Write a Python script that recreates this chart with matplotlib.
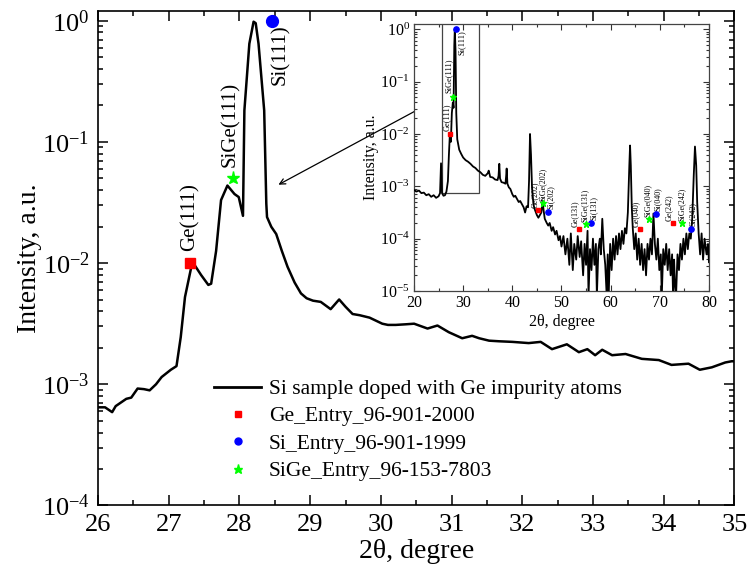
import numpy as np
import matplotlib
matplotlib.use('Agg')
import matplotlib.pyplot as plt
from matplotlib.lines import Line2D
from matplotlib.patches import Rectangle
from matplotlib.ticker import LogLocator, MultipleLocator, NullFormatter

plt.rcParams['font.family'] = ['Liberation Serif', 'DejaVu Serif']
plt.rcParams['mathtext.fontset'] = 'custom'
plt.rcParams['mathtext.rm'] = 'Liberation Serif'
plt.rcParams['mathtext.it'] = 'Liberation Serif:italic'
plt.rcParams['mathtext.default'] = 'regular'

# main pattern (zoomed 26-35 deg), log10 of intensity
main_x = [26.0, 26.1, 26.2, 26.25, 26.4, 26.47, 26.56, 26.65, 26.73, 26.82, 26.9, 27.03,
          27.11, 27.17, 27.23, 27.32, 27.37, 27.46, 27.56, 27.6, 27.67, 27.74, 27.83, 27.93,
          27.99, 28.05, 28.07, 28.14, 28.2, 28.23, 28.27, 28.35, 28.38, 28.39, 28.45, 28.52,
          28.6, 28.68, 28.78, 28.87, 28.95, 29.04, 29.15, 29.29, 29.41, 29.5, 29.6, 29.7,
          29.84, 30.02, 30.1, 30.21, 30.35, 30.47, 30.66, 30.8, 30.96, 31.15, 31.29, 31.39,
          31.53, 31.67, 31.86, 32.09, 32.26, 32.42, 32.63, 32.8, 32.92, 33.03, 33.13, 33.27,
          33.46, 33.69, 33.93, 34.11, 34.35, 34.51, 34.68, 34.87, 34.96, 35.0]
main_logI = [-3.19, -3.19, -3.23, -3.18, -3.12, -3.11, -3.035, -3.04, -3.05, -3.0, -2.94, -2.88,
             -2.85, -2.61, -2.28, -2.03, -2.02, -2.10, -2.18, -2.17, -1.90, -1.48, -1.36, -1.43,
             -1.455, -1.61, -0.74, -0.19, -0.008, -0.02, -0.19, -0.74, -1.51, -1.62, -1.70, -1.76,
             -1.90, -2.03, -2.16, -2.25, -2.29, -2.31, -2.32, -2.38, -2.30, -2.36, -2.42, -2.43,
             -2.45, -2.50, -2.51, -2.51, -2.505, -2.50, -2.54, -2.515, -2.57, -2.62, -2.60, -2.62,
             -2.64, -2.645, -2.65, -2.66, -2.65, -2.71, -2.67, -2.735, -2.71, -2.76, -2.715, -2.76,
             -2.75, -2.79, -2.80, -2.84, -2.83, -2.88, -2.86, -2.82, -2.81, -2.81]

# full pattern 20-80 deg for the inset
inset_x = [20.0, 20.5, 21.0, 21.5, 22.0, 22.5, 23.0, 23.5, 24.0, 24.5, 25.0, 25.3, 25.5, 25.7,
           26.0, 26.3, 26.6, 26.9, 27.1, 27.3, 27.5, 27.7, 27.9, 28.05, 28.2, 28.3, 28.45, 28.6,
           28.8, 29.2, 29.6, 30.0, 30.5, 31.0, 31.5, 32.0, 32.5, 33.0, 33.5, 34.0, 34.5, 35.0,
           35.2, 35.5, 36.0, 36.5, 37.0, 37.2, 37.35, 37.5, 37.8, 38.2, 38.6, 38.75, 38.85, 39.0,
           39.3, 39.6, 40.0, 40.3, 40.6, 41.0, 41.3, 41.6, 42.0, 42.3, 42.6, 42.9, 43.2, 43.4,
           43.6, 43.8, 44.0, 44.3, 44.6, 45.0, 45.3, 45.6, 45.9, 46.15, 46.35, 46.6, 47.0, 47.3,
           47.6, 48.0, 48.3, 48.7, 49.0, 49.4, 49.7,
           50.0, 50.4, 50.8, 51.2, 51.6, 51.9, 52.3, 52.6, 53.0, 53.3, 53.7, 54.0, 54.4, 54.7,
           55.0, 55.3, 55.5, 55.8, 56.1, 56.4, 56.7, 57.0, 57.2, 57.5, 57.8, 58.0, 58.3, 58.6,
           58.9, 59.2, 59.4, 59.6, 59.9, 60.2, 60.5, 60.8, 61.1, 61.4, 61.7, 62.0, 62.3, 62.6,
           62.9, 63.2, 63.5, 63.8, 63.95, 64.1, 64.3, 64.5, 64.8, 65.1, 65.4, 65.7, 66.0, 66.3,
           66.6, 66.9, 67.2, 67.5, 67.8, 68.1, 68.4, 68.7, 69.0, 69.3, 69.6, 69.9, 70.2, 70.4,
           70.7, 71.0, 71.3, 71.6, 71.9, 72.2, 72.5, 72.7, 72.9, 73.1, 73.3, 73.6, 73.9, 74.2,
           74.5, 74.8, 75.1, 75.4, 75.7, 76.0, 76.3, 76.6, 76.9, 77.15, 77.4, 77.6, 77.9, 78.2,
           78.5, 78.8, 79.1, 79.5, 79.8, 80.0]
inset_logI = [-3.07, -3.1, -3.08, -3.13, -3.12, -3.17, -3.15, -3.2, -3.17, -3.22, -3.19, -3.13, -2.56, -3.13,
              -3.18, -3.17, -3.1, -2.9, -2.4, -2.0, -2.15, -1.6, -1.4, -1.5, -0.3, 0.0, -0.4, -1.6,
              -2.1, -2.3, -2.38, -2.45, -2.5, -2.53, -2.57, -2.62, -2.65, -2.7, -2.73, -2.78, -2.8, -2.75,
              -2.7, -2.82, -2.83, -2.87, -2.88, -2.8, -2.57, -2.85, -2.92, -2.93, -2.95, -2.8, -2.66, -2.95,
              -3.02, -3.05, -3.15, -3.2, -3.18, -3.25, -3.3, -3.28, -3.35, -3.4, -3.5, -3.38, -3.4, -2.9,
              -2.0, -2.4, -3.0, -3.35, -3.45, -3.55, -3.6, -3.55, -3.5, -3.28, -3.45, -3.62, -3.7, -3.75,
              -3.7, -3.85, -3.78, -3.92, -3.85, -4.03, -3.95,
              -4.15, -3.95, -4.3, -4.0, -4.5, -3.9, -4.6, -4.1, -4.4, -3.95, -4.35, -4.05, -4.7, -4.1,
              -4.5, -3.85, -5.1, -4.2, -4.6, -4.0, -4.5, -4.1, -5.1, -4.2, -4.0, -4.3, -3.62, -4.2,
              -4.5, -5.1, -4.3, -5.1, -4.1, -4.6, -4.0, -4.4, -3.95, -4.3, -3.9, -4.2, -3.85, -4.1,
              -3.8, -3.9, -3.5, -2.6, -2.22, -2.6, -3.4, -3.8, -4.2, -3.9, -4.4, -4.0, -4.5, -4.1,
              -4.6, -4.2, -4.7, -4.1, -4.4, -4.0, -4.3, -3.52, -4.1, -4.4, -4.0, -4.6, -4.3, -5.1,
              -4.2, -4.5, -4.1, -4.6, -4.2, -4.7, -4.3, -5.1, -4.4, -4.9, -5.1, -4.3, -4.6, -4.1,
              -4.4, -4.0, -4.3, -3.9, -4.2, -3.9, -4.0, -3.6, -2.8, -2.24, -2.6, -3.3, -3.9, -4.3,
              -3.9, -4.4, -4.0, -4.3, -4.1, -4.45]

# reference database positions
ge_x = [27.3, 45.3, 53.6, 66.0, 72.7]
ge_y = [1.0e-2, 3.5e-4, 1.5e-4, 1.5e-4, 2.0e-4]
ge_lab = ['Ge(111)', 'Ge(202)', 'Ge(131)', 'Ge(040)', 'Ge(242)']
si_x = [28.46, 47.3, 56.1, 69.2, 76.3]
si_y = [1.0, 3.2e-4, 2.0e-4, 2.9e-4, 1.5e-4]
si_lab = ['Si(111)', 'Si(202)', 'Si(131)', 'Si(040)', 'Si(242)']
sige_x = [27.91, 46.3, 55.0, 67.7, 74.6]
sige_y = [5.0e-2, 4.9e-4, 1.9e-4, 2.4e-4, 2.0e-4]
sige_lab = ['SiGe(111)', 'SiGe(202)', 'SiGe(131)', 'SiGe(040)', 'SiGe(242)']

main_I = 10.0 ** np.array(main_logI)
inset_I = 10.0 ** np.array(inset_logI)

fig = plt.figure(figsize=(7.47, 5.75), dpi=100)
ax = fig.add_axes([0.1312, 0.1209, 0.852, 0.8608])

ax.plot(main_x, main_I, color='black', lw=1.8, zorder=3)
ax.plot(ge_x[0], ge_y[0], 's', color='red', ms=7.5, zorder=4)
ax.plot(si_x[0], si_y[0], 'o', color='blue', ms=8.5, zorder=4)
ax.plot(sige_x[0], sige_y[0], '*', color='#00ff00', ms=9.5, zorder=4)

ax.annotate(ge_lab[0], (ge_x[0], ge_y[0]), xytext=(0, 12), textcoords='offset pixels',
            rotation=90, ha='center', va='bottom', fontsize=15)
ax.annotate(sige_lab[0], (sige_x[0], sige_y[0]), xytext=(-3, 11), textcoords='offset pixels',
            rotation=90, ha='center', va='bottom', fontsize=15)
ax.annotate(si_lab[0], (si_x[0], si_y[0]), xytext=(9, -4), textcoords='offset pixels',
            rotation=90, ha='center', va='top', fontsize=15)

ax.set_yscale('log')
ax.set_xlim(26, 35)
ax.set_ylim(1e-4, 1.214)
ax.xaxis.set_major_locator(MultipleLocator(1))
ax.xaxis.set_minor_locator(MultipleLocator(0.5))
ax.yaxis.set_major_locator(LogLocator(base=10, numticks=10))
ax.yaxis.set_minor_locator(LogLocator(base=10, subs=np.arange(2, 10), numticks=20))
ax.yaxis.set_minor_formatter(NullFormatter())
ax.tick_params(which='both', direction='in', top=True, right=True, width=1.1, labelsize=19)
ax.tick_params(which='major', length=7, pad=6)
ax.tick_params(which='minor', length=3.5)
for s in ax.spines.values():
    s.set_linewidth(1.2)
ax.set_xlabel('2θ, degree', fontsize=20, labelpad=2)
ax.set_ylabel('Intensity, a.u.', fontsize=20, labelpad=0)

handles = [Line2D([], [], color='black', lw=2),
           Line2D([], [], ls='none', marker='s', color='red', ms=4.5),
           Line2D([], [], ls='none', marker='o', color='blue', ms=5),
           Line2D([], [], ls='none', marker='*', color='#00ff00', ms=6.5)]
labels = ['Si sample doped with Ge impurity atoms', 'Ge_Entry_96-901-2000',
          'Si_Entry_96-901-1999', 'SiGe_Entry_96-153-7803']
fig.legend(handles, labels, loc='upper left', bbox_to_anchor=(214 / 747, 1 - 379 / 575),
           frameon=False, fontsize=15.5, handlelength=2.2, handletextpad=0.35,
           labelspacing=0.34, borderaxespad=0, borderpad=0)

# inset with the whole pattern
ins = fig.add_axes([0.5542, 0.4939, 0.3949, 0.4638])
ins.plot(inset_x, inset_I, color='black', lw=1.3, zorder=3)
ins.plot(ge_x, ge_y, 's', color='red', ms=3.5, zorder=4)
ins.plot(si_x, si_y, 'o', color='blue', ms=3.8, zorder=4)
ins.plot(sige_x, sige_y, '*', color='#00ff00', ms=5, zorder=4)
ins.add_patch(Rectangle((25.6, 7.3e-4), 33.2 - 25.6, 1.3, fill=False, ec='#444444', lw=0.9, zorder=2))

ins.annotate(ge_lab[0], (ge_x[0], ge_y[0]), xytext=(-3, 3), textcoords='offset pixels',
             rotation=90, ha='center', va='bottom', fontsize=6)
ins.annotate(sige_lab[0], (sige_x[0], sige_y[0]), xytext=(-4, 4), textcoords='offset pixels',
             rotation=90, ha='center', va='bottom', fontsize=6)
ins.annotate(si_lab[0], (si_x[0], si_y[0]), xytext=(6, -1), textcoords='offset pixels',
             rotation=90, ha='center', va='top', fontsize=6)
for i in range(1, 5):
    ins.annotate(ge_lab[i], (ge_x[i], ge_y[i]), xytext=(-4, 2), textcoords='offset pixels',
                 rotation=90, ha='center', va='bottom', fontsize=5.8)
    ins.annotate(sige_lab[i], (sige_x[i], sige_y[i]), xytext=(-1, 2), textcoords='offset pixels',
                 rotation=90, ha='center', va='bottom', fontsize=5.8)
    ins.annotate(si_lab[i], (si_x[i], si_y[i]), xytext=(2, 3), textcoords='offset pixels',
                 rotation=90, ha='center', va='bottom', fontsize=5.8)

ins.set_yscale('log')
ins.set_xlim(20, 80)
ins.set_ylim(1e-5, 1.246)
ins.xaxis.set_major_locator(MultipleLocator(10))
ins.xaxis.set_minor_locator(MultipleLocator(5))
ins.yaxis.set_major_locator(LogLocator(base=10, numticks=10))
ins.yaxis.set_minor_locator(LogLocator(base=10, subs=np.arange(2, 10), numticks=20))
ins.yaxis.set_minor_formatter(NullFormatter())
ins.tick_params(which='both', direction='in', top=True, right=True, width=0.8,
                labelsize=11.5, color='#333333')
ins.tick_params(which='major', length=4, pad=3)
ins.tick_params(which='minor', length=2)
for s in ins.spines.values():
    s.set_linewidth(0.9)
    s.set_color('#444444')
ins.set_xlabel('2θ, degree', fontsize=11.5, labelpad=2)
ins.set_ylabel('Intensity, a.u.', fontsize=11.5, labelpad=1)

# arrow from the marked region of the inset to the main curve
ax.annotate('', xy=(276 / 747, 1 - 186 / 575), xytext=(445 / 747, 1 - 95 / 575),
            xycoords='figure fraction', textcoords='figure fraction',
            arrowprops=dict(arrowstyle='->', lw=0.9, color='black'), zorder=10)

fig.savefig('out.png', dpi=100)
